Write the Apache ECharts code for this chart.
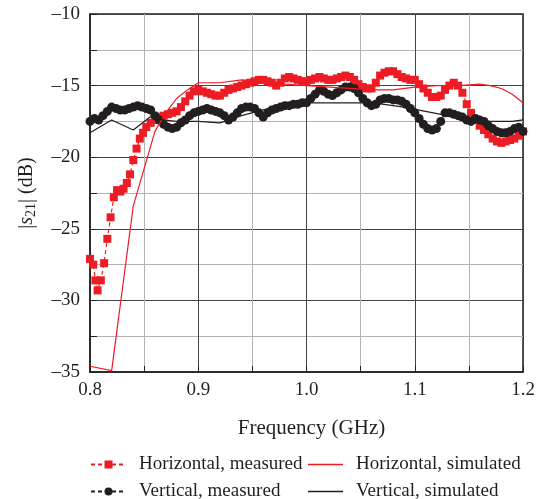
<!DOCTYPE html>
<html>
<head>
<meta charset="utf-8">
<script src="https://cdn.jsdelivr.net/npm/echarts@6/dist/echarts.min.js"></script>
<style>
  html, body { margin: 0; padding: 0; background: #fff; }
  #chart { width: 548px; height: 499px; }
</style>
</head>
<body>
<div id="chart"></div>
<script>
// |S21| vs frequency: measured (markers) and simulated (thin lines), horizontal and vertical
const hMeasFreq = [
  0.800, 0.803, 0.805, 0.807, 0.810, 0.813, 0.816, 0.819, 0.822, 0.825, 0.828, 0.831, 0.834, 0.837,
  0.840, 0.843, 0.846, 0.849, 0.852, 0.856, 0.860, 0.864, 0.868, 0.872, 0.876, 0.880, 0.884, 0.888,
  0.892, 0.896, 0.900, 0.904, 0.908, 0.912, 0.916, 0.920, 0.924, 0.928, 0.932, 0.936, 0.940, 0.944,
  0.948, 0.952, 0.956, 0.960, 0.964, 0.968, 0.972, 0.976, 0.980, 0.984, 0.988, 0.992, 0.996, 1.000,
  1.004, 1.008, 1.012, 1.016, 1.020, 1.024, 1.028, 1.032, 1.036, 1.040, 1.044, 1.048, 1.052, 1.056,
  1.060, 1.064, 1.068, 1.072, 1.076, 1.080, 1.084, 1.088, 1.092, 1.096, 1.100, 1.104, 1.108, 1.112,
  1.116, 1.120, 1.124, 1.128, 1.132, 1.136, 1.140, 1.144, 1.148, 1.152, 1.156, 1.160, 1.164, 1.168,
  1.172, 1.176, 1.180, 1.184, 1.188, 1.192, 1.196, 1.200
];
const hMeasVal = [
  -27.1, -27.5, -28.6, -29.3, -28.6, -27.4, -25.7, -24.2, -22.8, -22.3, -22.4, -22.2, -21.8, -21.2,
  -20.2, -19.4, -18.7, -18.3, -17.9, -17.6, -17.4, -17.2, -17.1, -17.0, -16.9, -16.8, -16.5, -16.1,
  -15.7, -15.4, -15.3, -15.4, -15.5, -15.6, -15.7, -15.7, -15.5, -15.3, -15.2, -15.1, -15.0, -14.9,
  -14.8, -14.7, -14.6, -14.6, -14.7, -14.8, -15.0, -14.8, -14.5, -14.4, -14.5, -14.6, -14.7, -14.7,
  -14.6, -14.5, -14.4, -14.5, -14.6, -14.6, -14.5, -14.4, -14.3, -14.4, -14.6, -14.9, -15.1, -15.2,
  -15.2, -14.8, -14.3, -14.1, -14.0, -14.0, -14.2, -14.4, -14.5, -14.6, -14.6, -14.9, -15.2, -15.5,
  -15.8, -15.8, -15.7, -15.3, -15.0, -14.8, -15.0, -15.5, -16.3, -16.9, -17.4, -17.8, -18.1, -18.4,
  -18.7, -18.9, -19.0, -18.9, -18.8, -18.7, -18.5, -18.2
];

const vMeasFreq = [
  0.800, 0.804, 0.808, 0.812, 0.816, 0.820, 0.824, 0.828, 0.832, 0.836, 0.840, 0.844, 0.848, 0.852,
  0.856, 0.860, 0.864, 0.868, 0.872, 0.876, 0.880, 0.884, 0.888, 0.892, 0.896, 0.900, 0.904, 0.908,
  0.912, 0.916, 0.920, 0.924, 0.928, 0.932, 0.936, 0.940, 0.944, 0.948, 0.952, 0.956, 0.960, 0.964,
  0.968, 0.972, 0.976, 0.980, 0.984, 0.988, 0.992, 0.996, 1.000, 1.004, 1.008, 1.012, 1.016, 1.020,
  1.024, 1.028, 1.032, 1.036, 1.040, 1.044, 1.048, 1.052, 1.056, 1.060, 1.064, 1.068, 1.072, 1.076,
  1.080, 1.084, 1.088, 1.092, 1.096, 1.100, 1.104, 1.108, 1.112, 1.116, 1.120, 1.124, 1.128, 1.132,
  1.136, 1.140, 1.144, 1.148, 1.152, 1.156, 1.160, 1.164, 1.168, 1.172, 1.176, 1.180, 1.184, 1.188,
  1.192, 1.196, 1.200
];
const vMeasVal = [
  -17.5, -17.3, -17.4, -17.1, -16.8, -16.5, -16.6, -16.7, -16.7, -16.6, -16.5, -16.4, -16.5, -16.6,
  -16.7, -17.1, -17.4, -17.7, -17.9, -18.0, -17.9, -17.6, -17.4, -17.1, -16.9, -16.8, -16.7, -16.6,
  -16.7, -16.8, -16.9, -17.1, -17.4, -17.2, -16.9, -16.6, -16.5, -16.5, -16.6, -16.9, -17.2, -16.9,
  -16.7, -16.6, -16.5, -16.4, -16.4, -16.3, -16.3, -16.2, -16.2, -15.9, -15.6, -15.3, -15.4, -15.6,
  -15.7, -15.5, -15.3, -15.1, -15.1, -15.2, -15.5, -15.9, -16.2, -16.4, -16.3, -16.0, -15.9, -15.9,
  -16.0, -16.0, -16.1, -16.3, -16.6, -16.9, -17.3, -17.7, -18.0, -18.1, -18.0, -17.5, -16.9, -16.9,
  -17.0, -17.1, -17.2, -17.4, -17.5, -17.3, -17.4, -17.5, -17.8, -18.0, -18.2, -18.3, -18.3, -18.2,
  -18.0, -17.9, -18.2
];

const hSimFreq = [0.80, 0.82, 0.84, 0.86, 0.87, 0.88, 0.89, 0.90, 0.92, 0.94, 0.96, 0.98, 1.00,
  1.04, 1.06, 1.08, 1.10, 1.12, 1.14, 1.16, 1.17, 1.18, 1.19, 1.20];
const hSimVal = [-34.6, -34.9, -23.4, -18.2, -16.9, -15.9, -15.3, -14.8, -14.8, -14.6, -14.7, -14.9, -15.0,
  -15.2, -15.3, -15.3, -15.1, -15.0, -15.0, -14.9, -15.0, -15.2, -15.6, -16.2];

const vSimFreq = [0.80, 0.82, 0.84, 0.857, 0.867, 0.88, 0.90, 0.92, 0.94, 0.96, 0.98, 1.00, 1.06,
  1.07, 1.09, 1.11, 1.13, 1.15, 1.17, 1.19, 1.20];
const vSimVal = [-18.3, -17.4, -18.1, -17.1, -17.4, -17.5, -17.5, -17.6, -17.1, -16.7, -16.4, -16.2, -16.2,
  -16.3, -16.5, -16.8, -17.1, -17.3, -17.5, -17.5, -17.4];

const xTicks = [0.8, 0.9, 1.0, 1.1, 1.2];
const yTicks = [-35, -30, -25, -20, -15, -10];

const names = ['Horizontal, measured', 'Horizontal, simulated', 'Vertical, measured', 'Vertical, simulated'];
const RED = '#ed1c24';
const BLACK = '#231f20';
const FONT = "'Liberation Serif', serif";

const pairs = (xs, ys) => xs.map((x, i) => [x, ys[i]]);
const dash = '\u2013';

const chart = echarts.init(document.getElementById('chart'), null, { renderer: 'canvas' });

// one legend per entry so the two columns line up like the original
function legendAt(name, left, top, simulated) {
  return {
    data: [simulated ? { name, icon: 'rect' } : name],
    left, top, orient: 'horizontal',
    itemWidth: 35, itemHeight: simulated ? 1.5 : 10, padding: 0,
    textStyle: { fontFamily: FONT, fontSize: 19, color: BLACK, padding: [0, 0, 0, 8] },
    selectedMode: false
  };
}

chart.setOption({
  animation: false,
  backgroundColor: '#fff',
  textStyle: { fontFamily: FONT },
  grid: { left: 90, right: 25, top: 14, bottom: 127, show: true, borderColor: BLACK, borderWidth: 1.5, backgroundColor: 'transparent' },
  legend: [
    legendAt(names[0], 90, 455, false),
    legendAt(names[1], 308, 455, true),
    legendAt(names[2], 90, 482, false),
    legendAt(names[3], 308, 482, true)
  ],
  xAxis: {
    type: 'value', min: 0.8, max: 1.2, interval: 0.1,
    name: 'Frequency (GHz)', nameLocation: 'middle', nameGap: 46,
    nameTextStyle: { fontFamily: FONT, fontSize: 21, color: BLACK, padding: [0, 0, 0, 10] },
    axisLine: { lineStyle: { color: BLACK, width: 1.5 } },
    axisTick: { inside: true, length: 6, lineStyle: { color: BLACK } },
    minorTick: { show: true, splitNumber: 2, length: 6, lineStyle: { color: BLACK } },
    axisLabel: {
      fontFamily: FONT, fontSize: 19, color: BLACK, margin: 9,
      formatter: v => (xTicks.some(t => Math.abs(t - v) < 1e-6) ? v.toFixed(1) : '')
    },
    splitLine: { show: true, lineStyle: { color: '#444', width: 1 } },
    minorSplitLine: { show: true, lineStyle: { color: '#b3b3b3', width: 1 } }
  },
  yAxis: {
    type: 'value', min: -35, max: -10, interval: 5,
    name: '|{s|s}{sub|21}| (dB)', nameLocation: 'middle', nameGap: 52, nameRotate: 90,
    nameTextStyle: {
      fontFamily: FONT, fontSize: 20, color: BLACK,
      rich: {
        s: { fontFamily: FONT, fontStyle: 'italic', fontSize: 20, color: BLACK },
        sub: { fontFamily: FONT, fontSize: 14, color: BLACK, padding: [8, 0, 0, 0] }
      }
    },
    axisLine: { lineStyle: { color: BLACK, width: 1.5 } },
    axisTick: { inside: true, length: 7, lineStyle: { color: BLACK } },
    minorTick: { show: true, splitNumber: 2, length: 7, lineStyle: { color: BLACK } },
    axisLabel: {
      fontFamily: FONT, fontSize: 19, color: BLACK, margin: 10,
      formatter: v => (yTicks.includes(v) ? dash + Math.abs(v) : '')
    },
    splitLine: { show: true, lineStyle: { color: '#444', width: 1 } },
    minorSplitLine: { show: true, lineStyle: { color: '#b3b3b3', width: 1 } }
  },
  series: [
    {
      name: names[0], type: 'line', data: pairs(hMeasFreq, hMeasVal),
      symbol: 'rect', symbolSize: 8, showAllSymbol: true, clip: true,
      lineStyle: { color: RED, width: 1.2, type: [4, 3] },
      itemStyle: { color: RED }, z: 2
    },
    {
      name: names[2], type: 'line', data: pairs(vMeasFreq, vMeasVal),
      symbol: 'circle', symbolSize: 9, showAllSymbol: true, clip: true,
      lineStyle: { color: BLACK, width: 1.2, type: [4, 3] },
      itemStyle: { color: BLACK }, z: 3
    },
    {
      name: names[1], type: 'line', data: pairs(hSimFreq, hSimVal),
      symbol: 'none', lineStyle: { color: RED, width: 1.2 }, itemStyle: { color: RED }, z: 4
    },
    {
      name: names[3], type: 'line', data: pairs(vSimFreq, vSimVal),
      symbol: 'none', lineStyle: { color: BLACK, width: 1.2 }, itemStyle: { color: BLACK }, z: 4
    }
  ]
});
</script>
</body>
</html>
